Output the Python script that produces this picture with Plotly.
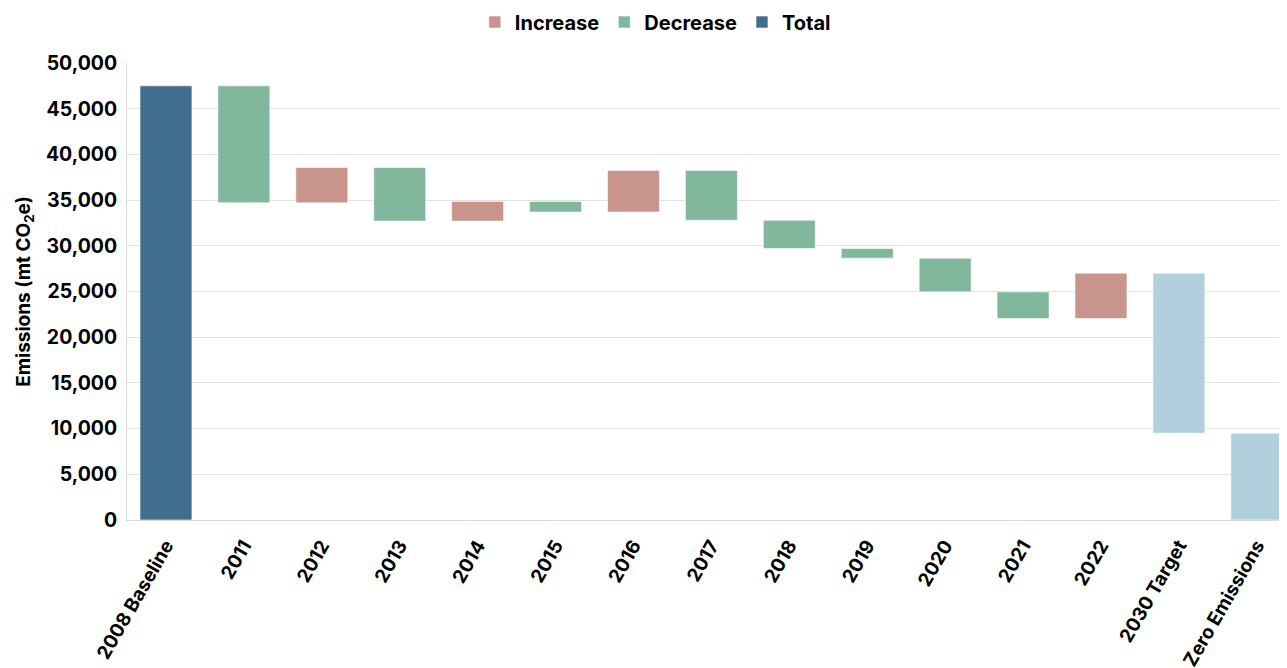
import numpy as np
import plotly.graph_objects as go

categories = ["2008 Baseline", "2011", "2012", "2013", "2014", "2015", "2016",
              "2017", "2018", "2019", "2020", "2021", "2022", "2030 Target",
              "Zero Emissions"]
baseline_total = 47500
year_changes = [-12800, 3870, -5870, 2150, -1160, 4550, -5440, -3100, -1050,
                -3690, -2920, 4970]
target_2030 = 9500
zero_emissions = 0

C_INC = "#C9948B"
C_DEC = "#80B79D"
C_TOT = "#416E8C"
C_TGT = "#B1D0DE"
FONT = "Inter"

years = categories[1:13]
changes = np.array(year_changes, dtype=float)
after = baseline_total + np.cumsum(changes)
before = np.concatenate([[baseline_total], after[:-1]])
bases = np.minimum(before, after)
heights = np.abs(changes)
inc = changes > 0
dec = changes < 0

line = dict(color="rgba(255,255,255,0.6)", width=1)
fig = go.Figure()
fig.add_trace(go.Bar(name="Increase", x=[y for y, m in zip(years, inc) if m],
                     y=heights[inc], base=bases[inc],
                     marker=dict(color=C_INC, line=line)))
fig.add_trace(go.Bar(name="Decrease", x=[y for y, m in zip(years, dec) if m],
                     y=heights[dec], base=bases[dec],
                     marker=dict(color=C_DEC, line=line)))
fig.add_trace(go.Bar(name="Total", x=[categories[0]], y=[baseline_total], base=[0],
                     marker=dict(color=C_TOT, line=line)))
fig.add_trace(go.Bar(name="Target", x=[categories[13], categories[14]],
                     y=[after[-1] - target_2030, target_2030 - zero_emissions],
                     base=[target_2030, zero_emissions],
                     marker=dict(color=C_TGT, line=line), showlegend=False))

fig.update_layout(
    width=1287, height=668,
    barmode="overlay", bargap=0.333,
    plot_bgcolor="white", paper_bgcolor="white",
    font=dict(family=FONT, size=16, color="black", weight="bold"),
    margin=dict(l=119, r=0, t=55, b=156),
    legend=dict(orientation="h", xref="container", yref="container",
                x=0.503, xanchor="center", y=0.979, yanchor="middle",
                font=dict(family=FONT, size=20, weight="bold"),
                itemwidth=30, traceorder="normal", tracegroupgap=0),
    xaxis=dict(categoryorder="array", categoryarray=categories,
               range=[-0.5, 14.49], tickangle=-60,
               tickfont=dict(family=FONT, size=19, weight="bold"),
               showline=True, linecolor="#d9d9d9", linewidth=1,
               showgrid=False, ticks="", ticklabelstandoff=6),
    yaxis=dict(range=[0, 50000], dtick=5000, tickformat=",d",
               tickfont=dict(family=FONT, size=19.5, weight="bold"),
               showgrid=True, gridcolor="#e2e2e2", gridwidth=1,
               showline=True, linecolor="#d9d9d9", linewidth=1,
               zeroline=False, ticks="", ticklabelstandoff=5,
               title=dict(text="Emissions (mt CO<sub>2</sub>e)",
                          font=dict(family=FONT, size=19, weight="bold"),
                          standoff=10)),
)

fig.write_html("out.html")
